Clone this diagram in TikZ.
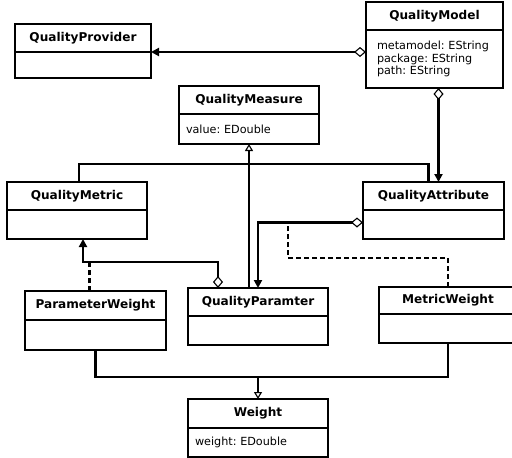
\documentclass[tikz,border=0pt]{standalone}
\usepackage{fontspec}
\setmainfont{DejaVu Sans}
\usetikzlibrary{arrows.meta,positioning}
\hyphenpenalty=10000
\frenchspacing

\begin{document}
\begin{tikzpicture}[x=1pt,y=-1pt,
 head/.style={rectangle,draw,line width=2.1pt,minimum width=#1,minimum height=28pt,
              inner sep=0pt,outer sep=0pt,anchor=north west,
              font=\fontsize{12.1}{14}\selectfont\bfseries},
 body/.style={rectangle,draw,line width=2.1pt,text width=#1,minimum height=29pt,
              inner xsep=7pt,inner ysep=0pt,outer sep=0pt,align=left,
              font=\fontsize{11.2}{12.6}\selectfont},
 link/.style={line width=2.1pt},
 agg/.style={link,{Diamond[open,length=12pt,width=10pt,line width=1.1pt]}-{Triangle[length=8pt,width=8pt]}},
 gen/.style={link,-{Triangle[open,length=7pt,width=8pt,line width=1.1pt]}},
 assoc/.style={link,dash pattern=on 5pt off 3pt}
]
\useasboundingbox (0,0) rectangle (512,458);
% classes
\node[head=136pt] (provider) at (15,24) {QualityProvider};
\node[body=122pt,minimum height=26pt,below=0pt of provider] (provider-b) {};
\node[head=137pt] (model) at (366,2) {QualityModel};
\node[body=115pt,inner xsep=11pt,minimum height=58pt,below=0pt of model] (model-b) {metamodel: EString\\package: EString\\path: EString};
\node[head=140pt] (measure) at (179,86) {QualityMeasure};
\node[body=126pt,minimum height=30pt,below=0pt of measure] (measure-b) {value: EDouble};
\node[head=140pt] (metric) at (7,182) {QualityMetric};
\node[body=126pt,below=0pt of metric] (metric-b) {};
\node[head=141pt] (attr) at (363,182) {QualityAttribute};
\node[body=127pt,below=0pt of attr] (attr-b) {};
\node[head=141pt,minimum height=29pt] (pw) at (25,291) {ParameterWeight};
\node[body=127pt,minimum height=30pt,below=0pt of pw] (pw-b) {};
\node[head=140pt] (param) at (188,288) {QualityParamter};
\node[body=126pt,below=0pt of param] (param-b) {};
\node[head=138pt,minimum height=27pt] (mw) at (379,287) {MetricWeight};
\node[body=124pt,below=0pt of mw] (mw-b) {};
\node[head=140pt,minimum height=29pt] (weight) at (188,399) {Weight};
\node[body=126pt,below=0pt of weight] (weight-b) {weight: EDouble};
% bend points
\coordinate (genm) at (249,164);
\coordinate (pm) at (150,262);
\coordinate (am) at (288,258);
\coordinate (wm) at (258,377);
\path ([yshift=2pt]attr-b.west) coordinate (ag);
% connectors
\draw[agg] (model-b.west |- provider.south) -- (provider.south east);
\draw[agg] ([xshift=4pt]model-b.south) -- ([xshift=4pt]model-b.south |- attr.north);
\draw[link] ([xshift=2pt]metric.north) |- (genm) -| ([xshift=-5pt]attr.north);
\draw[gen] (param.north -| measure-b.south) -- (measure-b.south);
\draw[agg] ([xshift=-40pt]param.north) |- (pm) -| ([xshift=6pt]metric-b.south);
\draw[assoc] ([xshift=-6pt]pw.north) -- ([xshift=-6pt]pw.north |- pm);
\draw[agg] (ag) -| (param.north);
\draw[assoc] (mw.north) |- (am) -- (am |- ag);
\draw[link] (pw-b.south) |- (wm) -| (mw-b.south);
\draw[gen] (wm) -- (weight.north);
\end{tikzpicture}
\end{document}
